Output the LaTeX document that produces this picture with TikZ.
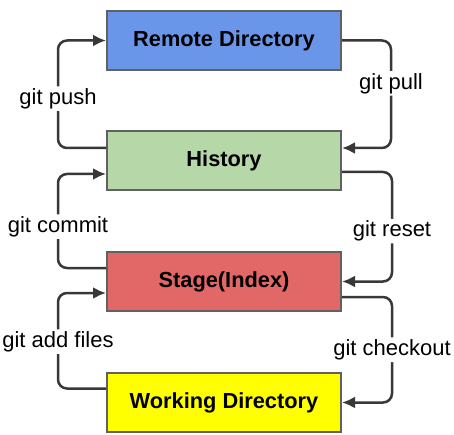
\documentclass[tikz,border=0pt]{standalone}
\usepackage{fontspec}
\setmainfont{Liberation Sans}
\usetikzlibrary{positioning,arrows.meta}
\definecolor{remoteblue}{RGB}{106,150,234}
\definecolor{historygreen}{RGB}{182,215,168}
\definecolor{stagered}{RGB}{226,104,104}
\definecolor{workyellow}{RGB}{255,255,0}
\begin{document}
\begin{tikzpicture}[x=1pt,y=-1pt,
    box/.style={draw=black!62,line width=2pt,minimum width=234pt,minimum height=59pt,inner sep=0pt,font=\fontsize{21.8}{24}\selectfont\bfseries},
    flow/.style={draw=black!78,line width=2.5pt,rounded corners=9pt,-{Latex[length=13pt,width=12pt]}},
    lbl/.style={fill=white,inner sep=2pt,font=\fontsize{22}{24}\selectfont}]
        \useasboundingbox (0,0) rectangle (454,435);
        \node[box,fill=remoteblue] (remote) at (224,40.5) {Remote Directory};
        \node[box,fill=historygreen,below=59pt of remote] (history) {History};
        \node[box,fill=stagered,below=60pt of history] (stage) {Stage(Index)};
        \node[box,fill=workyellow,below=60pt of stage] (work) {Working Directory};
        
        % left side: going up
        \draw[flow] ([yshift=12.5pt]history.west) -- ++(-48,0) |- node[lbl,pos=.23] {git push} (remote.west);
        \draw[flow] ([yshift=13.5pt]stage.west) -- ++(-48,0) |- node[lbl,pos=.22] {git commit} ([yshift=-13.5pt]history.west);
        \draw[flow] ([yshift=14pt]work.west) -- ++(-48,0) |- node[lbl,pos=.245] {git add files} ([yshift=-11.5pt]stage.west);
        
        % right side: going down
        \draw[flow] (remote.east) -- ++(49,0) |- node[lbl,pos=.2] {git pull} ([yshift=12.5pt]history.east);
        \draw[flow] ([yshift=-11.5pt]history.east) -- ++(50,0) |- node[lbl,pos=.27] {git reset} (stage.east);
        \draw[flow] ([yshift=-15.5pt]stage.east) -- ++(50,0) |- node[lbl,pos=.25] {git checkout} (work.east);
\end{tikzpicture}
\end{document}
